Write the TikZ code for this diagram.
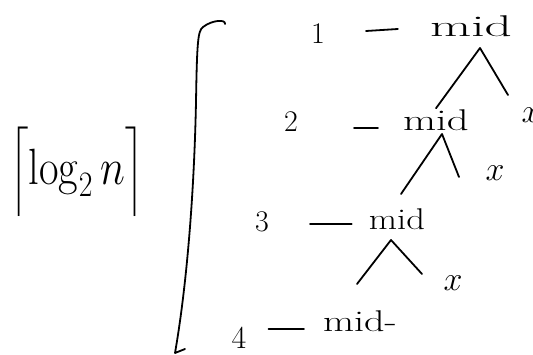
\documentclass[tikz,border=0pt]{standalone}
\usepackage{fix-cm}
\usepackage{amsmath}
\usepackage{graphicx}
\usetikzlibrary{positioning}
\tikzset{
    handtext/.style={font=\fontsize{30}{34}\selectfont, inner sep=1pt},
    levelnode/.style={handtext},
    midnode/.style={handtext},
    leafnode/.style={font=\fontsize{34}{38}\selectfont, inner sep=1pt},
    handline/.style={line width=1.8pt, line cap=round, line join=round},
    treeline/.style={handline},
    dashline/.style={handline}
}
\newcommand{\wideword}[2][1.4]{\scalebox{#1}[1]{#2}}

\begin{document}
\begin{tikzpicture}[x=1pt, y=-1pt]
    \useasboundingbox (0,0) rectangle (533,355);
    % height of the search
    \node[font=\fontsize{34}{40}\selectfont, inner sep=0pt] (height) at (77,172)
        {\scalebox{1.25}[1.5]{$\Bigl\lceil \log_2 n \Bigr\rceil$}};
    \draw[handline] (225,24) .. controls (226,19) and (212,20) .. (203,27)
        .. controls (198,31) and (197,40) .. (196,102)
        .. controls (194,200) and (186,290) .. (175,353) -- (185,349);
    % levels
    \node[levelnode] (lev1) at (318,34) {1};
    \node[midnode] (mid1) at (471,26) {\wideword[1.78]{mid}};
    \node[levelnode] (lev2) at (291,122) {2};
    \node[midnode] (mid2) at (436,120) {\wideword[1.43]{mid}};
    \node[levelnode] (lev3) at (262,222) {3};
    \node[midnode] (mid3) at (397,219) {\wideword[1.22]{mid}};
    \node[levelnode, font=\fontsize{32}{36}\selectfont] (lev4) at (239,338) {4};
    \node[midnode] (mid4) at (360,321) {\wideword[1.34]{mid-}};
    \draw[dashline] ([xshift=40pt, yshift=3pt]lev1.east) -- ([xshift=-31pt, yshift=-3pt]mid1.west);
    \draw[dashline] ([xshift=55pt, yshift=-6pt]lev2.east) -- ([xshift=-24pt, yshift=-8pt]mid2.west);
    \draw[dashline] ([xshift=40pt, yshift=-2pt]lev3.east) -- ([xshift=-16pt, yshift=-5pt]mid3.west);
    \draw[dashline] ([xshift=21pt, yshift=9pt]lev4.east) -- ([xshift=-18pt, yshift=-8pt]mid4.west);
    % halving tree
    \node[leafnode] (leaf1) at (531,115) {$x$};
    \node[leafnode] (leaf2) at (495,173) {$x$};
    \node[leafnode] (leaf3) at (453,283) {$x$};
    \coordinate (top1) at (480,48);
    \coordinate (top2) at (442,134);
    \coordinate (top3) at (391,240);
    \coordinate (low2) at (401,194);
    \coordinate (low3) at (357,284);
    \coordinate (end1) at (508,95);
    \coordinate (end2) at (459,177);
    \coordinate (end3) at (422,274);
    \draw[treeline] (mid2.north) -- (top1) -- (end1);
    \draw[treeline] (low2) -- (top2) -- (end2);
    \draw[treeline] (low3) -- (top3) -- (end3);
\end{tikzpicture}
\end{document}
